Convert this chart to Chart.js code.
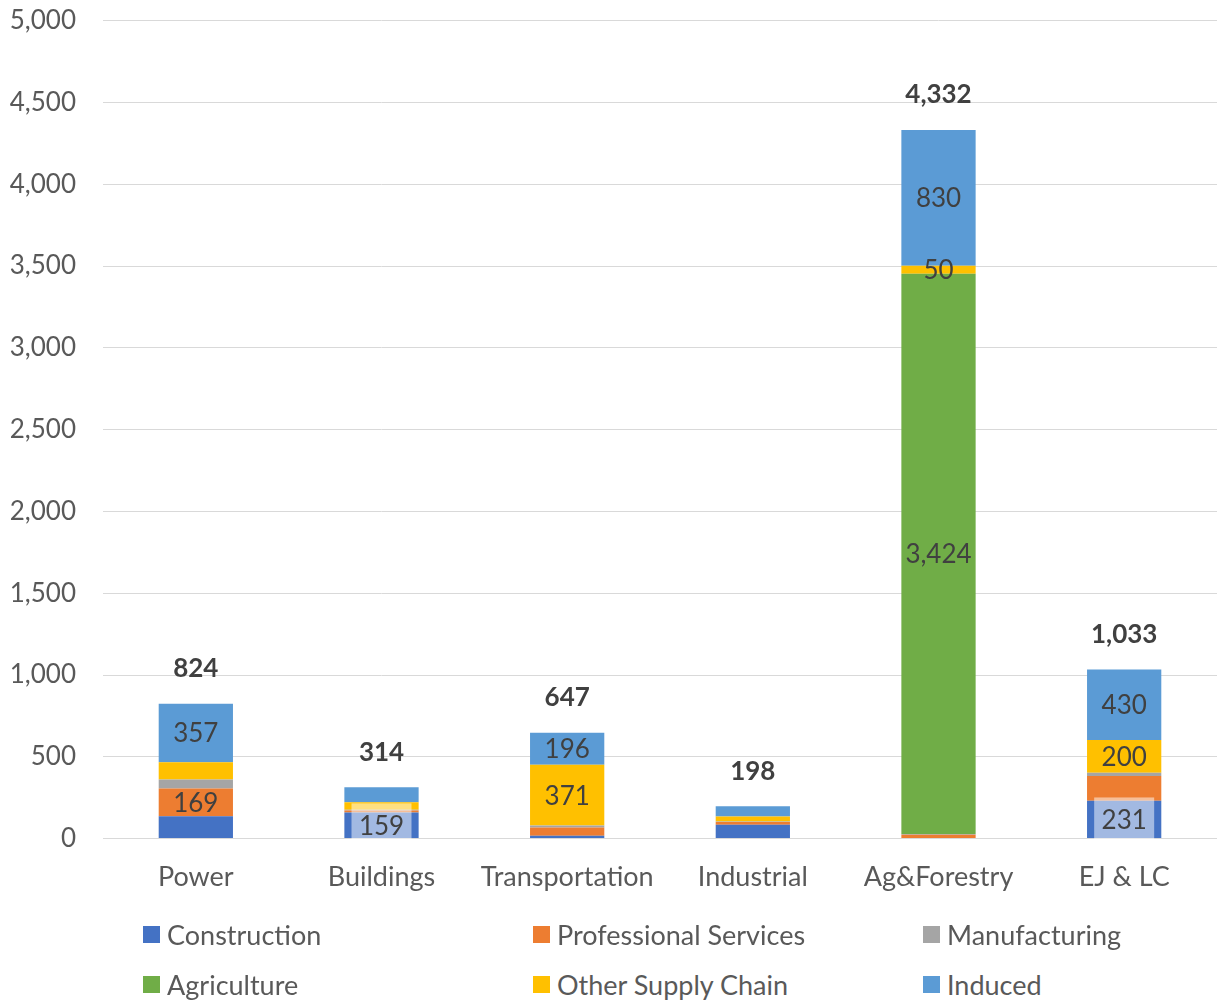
<!DOCTYPE html>
<html>
<head>
<meta charset="utf-8">
<script src="https://cdn.jsdelivr.net/npm/chart.js@4.4.1/dist/chart.umd.min.js"></script>
<style>
  body { margin: 0; background: #fff; font-family: Lato, "Open Sans", sans-serif; overflow: hidden; }
  #wrap { position: relative; width: 1217px; height: 937px; margin-top: -22px; }
  #legend { position: absolute; left: 0; top: 909px; width: 1217px; }
  .item { position: absolute; height: 50px; display: flex; align-items: center; font-size: 27px; color: #595959; }
  .item span.box { width: 17px; height: 17px; margin-right: 7px; display: inline-block; }
</style>
</head>
<body>
<div id="wrap"><canvas id="jobsChart"></canvas></div>
<div id="legend"></div>
<script>
const categories = ["Power", "Buildings", "Transportation", "Industrial", "Ag&Forestry", "EJ & LC"];

const construction  = [137, 159, 18, 85, 4, 231];
const professional  = [169, 12, 50, 17, 20, 152];
const manufacturing = [56, 6, 12, 3, 4, 20];
const agriculture   = [0, 0, 0, 0, 3424, 0];
const otherSupply   = [105, 45, 371, 30, 50, 200];
const induced       = [357, 92, 196, 63, 830, 430];

const seriesNames  = ["Construction", "Professional Services", "Manufacturing", "Agriculture", "Other Supply Chain", "Induced"];
const seriesData   = [construction, professional, manufacturing, agriculture, otherSupply, induced];
const seriesColors = ["#4472C4", "#ED7D31", "#A5A5A5", "#70AD47", "#FFC000", "#5B9BD5"];

// segments that carry a value label: [series, category]
const labelled = [
  [1, 0], [5, 0],
  [0, 1],
  [4, 2], [5, 2],
  [3, 4], [4, 4], [5, 4],
  [0, 5], [4, 5], [5, 5]
];

const yTicks = [0, 500, 1000, 1500, 2000, 2500, 3000, 3500, 4000, 4500, 5000];

const fmt = v => v.toLocaleString("en-US");
const FONT = "Lato, 'Open Sans', sans-serif";

const labelPlugin = {
  id: "segmentLabels",
  afterDatasetsDraw(chart) {
    const ctx = chart.ctx;
    ctx.save();
    ctx.textAlign = "center";
    ctx.textBaseline = "middle";

    labelled.forEach(([s, c]) => {
      const bar = chart.getDatasetMeta(s).data[c];
      const cy = (bar.y + bar.base) / 2;
      if (s === 0) {
        // construction labels sit on a translucent white box
        ctx.fillStyle = "rgba(255,255,255,0.5)";
        ctx.fillRect(bar.x - 30, cy - 22, 60, 44);
      }
      ctx.fillStyle = "#404040";
      ctx.font = "26px " + FONT;
      ctx.fillText(fmt(seriesData[s][c]), bar.x, cy + 1);
    });

    // totals above each stack
    const top = chart.getDatasetMeta(seriesData.length - 1).data;
    ctx.font = "bold 26px " + FONT;
    ctx.fillStyle = "#404040";
    categories.forEach((_, c) => {
      const total = seriesData.reduce((sum, arr) => sum + arr[c], 0);
      ctx.fillText(fmt(total), top[c].x, top[c].y - 35);
    });
    ctx.restore();
  }
};

new Chart(document.getElementById("jobsChart"), {
  type: "bar",
  data: {
    labels: categories,
    datasets: seriesNames.map((name, i) => ({
      label: name,
      data: seriesData[i],
      backgroundColor: seriesColors[i],
      borderWidth: 0,
      barPercentage: 1,
      categoryPercentage: 0.4
    }))
  },
  options: {
    responsive: true,
    maintainAspectRatio: false,
    animation: false,
    layout: { padding: { top: 0, right: 0, bottom: 0, left: 0 } },
    plugins: { legend: { display: false }, tooltip: { enabled: false } },
    scales: {
      x: {
        stacked: true,
        grid: { display: false, drawTicks: false },
        border: { display: true, color: "#D9D9D9" },
        ticks: { color: "#595959", font: { family: FONT, size: 27 }, padding: 22 }
      },
      y: {
        stacked: true,
        min: 0,
        max: 5000,
        afterFit(scale) { scale.width = 103; },
        afterBuildTicks(scale) { scale.ticks = yTicks.map(v => ({ value: v })); },
        grid: { color: "#D9D9D9", drawTicks: false },
        border: { display: false },
        ticks: {
          color: "#595959",
          font: { family: FONT, size: 26 },
          padding: 27,
          callback: v => fmt(v)
        }
      }
    }
  },
  plugins: [labelPlugin]
});

// legend in three columns
const legend = document.getElementById("legend");
seriesNames.forEach((name, i) => {
  const el = document.createElement("div");
  el.className = "item";
  el.style.left = (143 + (i % 3) * 390) + "px";
  el.style.top = (Math.floor(i / 3) * 50) + "px";
  el.innerHTML = '<span class="box" style="background:' + seriesColors[i] + '"></span>' + name;
  legend.appendChild(el);
});
</script>
</body>
</html>
